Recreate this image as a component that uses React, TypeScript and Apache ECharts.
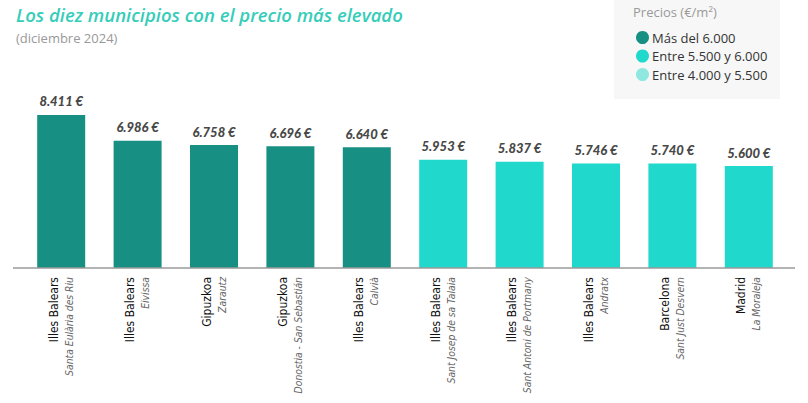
import React, { useEffect, useRef } from "react";
import * as echarts from "echarts";

const provinces = [
  "Illes Balears",
  "Illes Balears",
  "Gipuzkoa",
  "Gipuzkoa",
  "Illes Balears",
  "Illes Balears",
  "Illes Balears",
  "Illes Balears",
  "Barcelona",
  "Madrid",
];
const municipalities = [
  "Santa Eulària des Riu",
  "Eivissa",
  "Zarautz",
  "Donostia - San Sebastián",
  "Calvià",
  "Sant Josep de sa Talaia",
  "Sant Antoni de Portmany",
  "Andratx",
  "Sant Just Desvern",
  "La Moraleja",
];
const prices = [8411, 6986, 6758, 6696, 6640, 5953, 5837, 5746, 5740, 5600];
const groupNames = ["Más del 6.000", "Entre 5.500 y 6.000", "Entre 4.000 y 5.500"];
const groupMin = [6000, 5500, 4000];
const groupMax = [Infinity, 6000, 5500];
const groupColors = ["#178f82", "#21d8cc", "#8ee8e0"];

const fmt = (v: number) => {
  const s = String(Math.round(v));
  return s.replace(/\B(?=(\d{3})+(?!\d))/g, ".") + " €";
};

export default function App() {
  const ref = useRef<HTMLDivElement>(null);
  useEffect(() => {
    document.body.style.margin = "0";
    const chart = echarts.init(ref.current!, null, { renderer: "svg" });
    const cats = provinces.map((p, i) => p + "\n" + municipalities[i]);
    chart.setOption({
      animation: false,
      backgroundColor: "#ffffff",
      title: {
        left: 11,
        top: 0,
        text: "Los diez municipios con el precio más elevado",
        subtext: "(diciembre 2024)",
        itemGap: 7,
        textStyle: {
          fontFamily: "Open Sans",
          fontStyle: "italic",
          fontWeight: 600,
          fontSize: 18.5,
          color: "#35cdb9",
        },
        subtextStyle: {
          fontFamily: "Open Sans",
          fontSize: 13,
          color: "#999999",
        },
      },
      graphic: [
        {
          type: "rect",
          z: -1,
          shape: { x: 614, y: 0, width: 166, height: 99 },
          style: { fill: "#f7f7f7" },
        },
        {
          type: "text",
          x: 633,
          y: 5,
          style: {
            text: "Precios (€/m²)",
            fontFamily: "Open Sans",
            fontSize: 13,
            fill: "#9a9a9a",
          },
        },
        {
          type: "line",
          shape: { x1: 13, y1: 268, x2: 795, y2: 268 },
          style: { stroke: "#9a9a9a", lineWidth: 1.5 },
          z: 10,
        },
      ],
      legend: {
        orient: "vertical",
        left: 631,
        top: 26,
        icon: "circle",
        itemWidth: 13,
        itemHeight: 13,
        itemGap: 5.5,
        data: groupNames,
        textStyle: { fontFamily: "Open Sans", fontSize: 13, color: "#333333", padding: [0, 0, 0, -2] },
      },
      grid: { left: 23, right: 21, top: 86, bottom: 135, outerBoundsMode: "none", containLabel: false },
      xAxis: {
        type: "category",
        data: cats,
        axisLine: { show: false },
        axisTick: { show: false },
        axisLabel: {
          interval: 0,
          rotate: 90,
          margin: 9,
          hideOverlap: false,
          formatter: (v: string) => {
            const [a, b] = v.split("\n");
            return "{a|" + a + "}\n{b|" + b + "}";
          },
          rich: {
            a: {
              fontFamily: "Liberation Sans Narrow, DejaVu Sans Condensed, sans-serif",
              fontSize: 12,
              color: "#111111",
              lineHeight: 15,
            },
            b: {
              fontFamily: "Liberation Sans Narrow, DejaVu Sans Condensed, sans-serif",
              fontStyle: "italic",
              fontSize: 10.3,
              color: "#666666",
              lineHeight: 15,
            },
          },
        },
      },
      yAxis: { type: "value", min: 0, max: 10000, show: false, splitLine: { show: false } },
      series: groupNames.map((name, g) => ({
        name,
        type: "bar",
        barWidth: 48,
        barGap: "-100%",
        itemStyle: { color: groupColors[g] },
        label: {
          show: true,
          position: "top",
          distance: 7,
          formatter: (p: any) => fmt(p.value),
          fontFamily: "Lato",
          fontStyle: "italic",
          fontWeight: 900,
          fontSize: 13,
          color: "#484848",
        },
        data: prices.map((v) => (v > groupMin[g] && v <= groupMax[g] ? v : null)),
      })),
    });
    return () => chart.dispose();
  }, []);
  return <div ref={ref} style={{ width: 808, height: 403 }} />;
}
